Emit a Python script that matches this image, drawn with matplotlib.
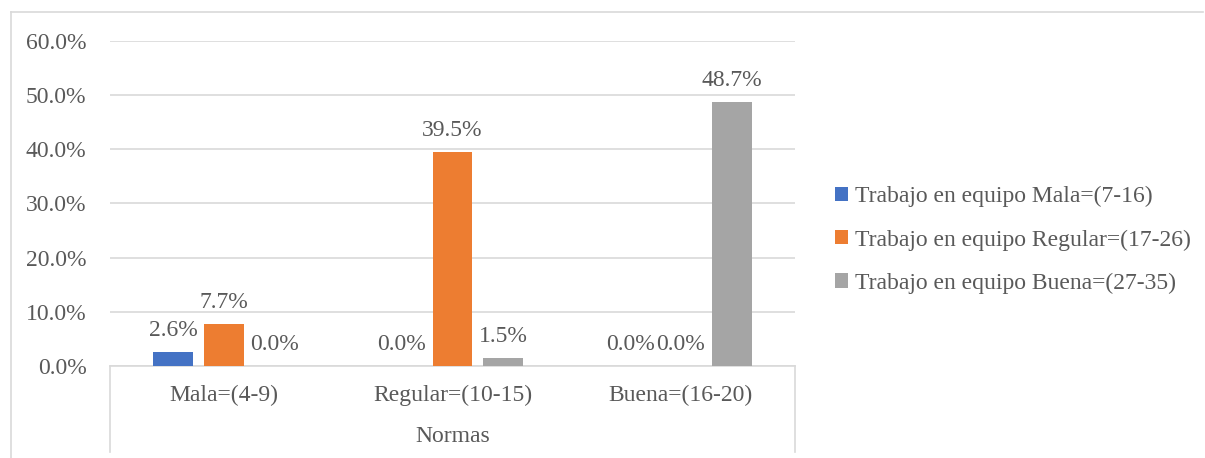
import matplotlib
matplotlib.use("Agg")
import matplotlib.pyplot as plt
from matplotlib.lines import Line2D
from matplotlib.patches import Patch
import numpy as np

categories = ["Mala=(4-9)", "Regular=(10-15)", "Buena=(16-20)"]
series_names = [
    "Trabajo en equipo Mala=(7-16)",
    "Trabajo en equipo Regular=(17-26)",
    "Trabajo en equipo Buena=(27-35)",
]
mala = [2.6, 0.0, 0.0]
regular = [7.7, 39.5, 0.0]
buena = [0.0, 1.5, 48.7]
colors = ["#4472C4", "#ED7D31", "#A5A5A5"]
axis_title = "Normas"
yticks = [0, 10, 20, 30, 40, 50, 60]

W, H = 1205, 458
fig = plt.figure(figsize=(W / 100, H / 100), dpi=100)
plt.rcParams["font.family"] = ["Liberation Serif", "DejaVu Serif"]
txt = "#595959"
grid = "#D9D9D9"
fs = 17

left, right, top, bottom = 110, 795, 41, 366
ax = fig.add_axes([left / W, (H - bottom) / H, (right - left) / W, (bottom - top) / H])

x = np.arange(len(categories))
width = 0.175
step = 0.222
series = [mala, regular, buena]
for i, (vals, col) in enumerate(zip(series, colors)):
    pos = x + (i - 1) * step
    ax.bar(pos, vals, width=width, color=col, zorder=3)
    for p, v in zip(pos, vals):
        ax.annotate(f"{v:.1f}%", (p, v), xytext=(0, 8), textcoords="offset points",
                    ha="center", va="bottom", fontsize=fs, color=txt)

ax.set_xlim(-0.5, len(categories) - 0.5)
ax.set_ylim(0, 60)
ax.set_yticks(yticks)
ax.set_yticklabels([f"{t:.1f}%" for t in yticks], fontsize=fs, color=txt)
ax.tick_params(axis="y", length=0, pad=17)
ax.set_xticks([])
ax.grid(axis="y", color=grid, linewidth=1.2, zorder=0)
for s in ["top", "right", "left"]:
    ax.spines[s].set_visible(False)
ax.spines["bottom"].set_color(grid)
ax.spines["bottom"].set_linewidth(1.2)

# category labels and grouping box below the axis
ah = bottom - top
for xi, lab in zip(x, categories):
    ax.text(xi, -(395 - bottom) / ah * 60, lab, ha="center", va="center",
            fontsize=fs, color=txt)
ax.text(np.mean(x), -(436 - bottom) / ah * 60, axis_title, ha="center", va="center",
        fontsize=fs, color=txt)
depth = -(452 - bottom) / ah * 60
for xe in [-0.5, len(categories) - 0.5]:
    ax.add_line(Line2D([xe, xe], [0, depth], color=grid, linewidth=1.2, clip_on=False))

# legend
handles = [Patch(facecolor=c, edgecolor="none") for c in colors]
fig.legend(handles, series_names, loc="center left",
           bbox_to_anchor=(814 / W, 1 - 240 / H), frameon=False, fontsize=fs,
           labelcolor=txt, handlelength=0.55, handleheight=0.55, handletextpad=0.3,
           labelspacing=0.93)

# chart frame
fig.add_artist(Line2D([11 / W, 1203 / W], [1 - 12 / H, 1 - 12 / H], color=grid, linewidth=1.2))
fig.add_artist(Line2D([11 / W, 11 / W], [1 - 12 / H, 0], color=grid, linewidth=1.2))

fig.savefig("out.png", dpi=100)
